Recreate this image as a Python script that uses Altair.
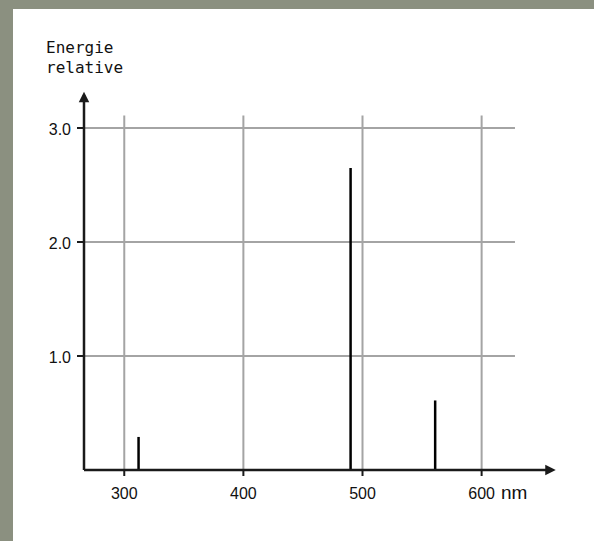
import altair as alt
import pandas as pd

# Data
wavelengths = [312, 490, 561]          # nm
energies = [0.29, 2.65, 0.61]          # relative energy
x_ticks = [300, 400, 500, 600]
x_labels = ["300", "400", "500", "600"]
y_ticks = [1.0, 2.0, 3.0]
y_labels = ["1.0", "2.0", "3.0"]

x_domain = [266.2, 661.6]
y_domain = [0, 3.307]
grid_top = 3.11
grid_right = 628

W, H = 471, 377
PL, PT = 84, 93

xs = alt.Scale(domain=x_domain, nice=False, zero=False)
ys = alt.Scale(domain=y_domain, nice=False, zero=False)

lines_df = pd.DataFrame({"nm": wavelengths, "e": energies})
vgrid_df = pd.DataFrame({"nm": x_ticks, "y0": [0] * 4, "y1": [grid_top] * 4, "lab": x_labels})
hgrid_df = pd.DataFrame({"e": y_ticks, "x0": [x_domain[0]] * 3, "x1": [grid_right] * 3, "lab": y_labels})
one = pd.DataFrame({"a": [0]})

GRID = "#a4a4a4"
INK = "#1a1a1a"
BORDER = "#8b9080"

border_left = alt.Chart(one).mark_rect(color=BORDER).encode(
    x=alt.value(-PL), x2=alt.value(-PL + 13), y=alt.value(-PT), y2=alt.value(541 - PT)
)
border_top = alt.Chart(one).mark_rect(color=BORDER).encode(
    x=alt.value(-PL), x2=alt.value(594 - PL), y=alt.value(-PT), y2=alt.value(-PT + 9)
)

vgrid = alt.Chart(vgrid_df).mark_rule(color=GRID, strokeWidth=2).encode(
    x=alt.X("nm:Q", scale=xs, axis=None),
    y=alt.Y("y0:Q", scale=ys, axis=None),
    y2="y1:Q",
)
hgrid = alt.Chart(hgrid_df).mark_rule(color=GRID, strokeWidth=2).encode(
    y=alt.Y("e:Q", scale=ys, axis=None),
    x=alt.X("x0:Q", scale=xs, axis=None),
    x2="x1:Q",
)

spectral = alt.Chart(lines_df).mark_rule(color="#000000", strokeWidth=2.5).encode(
    x=alt.X("nm:Q", scale=xs, axis=None),
    y=alt.Y("e:Q", scale=ys, axis=None),
    y2=alt.Y2(datum=0),
)

# axis lines and ticks
y_axis_line = alt.Chart(one).mark_rule(color=INK, strokeWidth=2.5).encode(
    x=alt.value(0), y=alt.value(2), y2=alt.value(H)
)
x_axis_line = alt.Chart(one).mark_rule(color=INK, strokeWidth=2.5).encode(
    x=alt.value(0), x2=alt.value(W - 3), y=alt.value(H)
)
x_tick_marks = alt.Chart(vgrid_df).mark_rule(color=INK, strokeWidth=2).encode(
    x=alt.X("nm:Q", scale=xs, axis=None), y=alt.value(H), y2=alt.value(H + 6)
)
y_tick_marks = alt.Chart(hgrid_df).mark_rule(color=INK, strokeWidth=2).encode(
    y=alt.Y("e:Q", scale=ys, axis=None), x=alt.value(-7), x2=alt.value(0)
)

arrow_up = alt.Chart(one).mark_point(
    shape="M0,-1L1,1L-1,1Z", filled=True, color=INK, opacity=1, size=110, strokeWidth=0
).encode(x=alt.value(0), y=alt.value(4))
arrow_right = alt.Chart(one).mark_point(
    shape="M1,0L-1,-1L-1,1Z", filled=True, color=INK, opacity=1, size=110, strokeWidth=0
).encode(x=alt.value(W - 4.5), y=alt.value(H))

ylab = alt.Chart(hgrid_df).mark_text(
    font="Liberation Sans", fontSize=16, align="right", baseline="middle", dy=2, color="#111"
).encode(y=alt.Y("e:Q", scale=ys, axis=None), x=alt.value(71 - PL), text="lab:N")

xlab = alt.Chart(vgrid_df).mark_text(
    font="Liberation Sans", fontSize=16, align="center", baseline="alphabetic", color="#111"
).encode(x=alt.X("nm:Q", scale=xs, axis=None), y=alt.value(499 - PT), text="lab:N")

unit = alt.Chart(one).mark_text(
    font="Liberation Sans", fontSize=19, align="left", baseline="alphabetic", color="#111", text="nm"
).encode(x=alt.value(501 - PL), y=alt.value(499 - PT))

title1 = alt.Chart(one).mark_text(
    font="DejaVu Sans Mono", fontSize=16, align="left", baseline="alphabetic", color="#111",
    text="Energie"
).encode(x=alt.value(46 - PL), y=alt.value(53 - PT))
title2 = alt.Chart(one).mark_text(
    font="DejaVu Sans Mono", fontSize=16, align="left", baseline="alphabetic", color="#111",
    text="relative"
).encode(x=alt.value(46 - PL), y=alt.value(73 - PT))

chart = alt.layer(
    border_left, border_top, vgrid, hgrid, spectral,
    y_axis_line, x_axis_line, x_tick_marks, y_tick_marks, arrow_up, arrow_right,
    ylab, xlab, unit, title1, title2
).properties(
    width=W, height=H,
    padding={"left": PL, "top": PT, "right": 594 - PL - W, "bottom": 541 - PT - H},
    autosize=alt.AutoSizeParams(type="none"),
    background="white",
).configure_view(strokeWidth=0)

chart.save("out.html", embed_options={"renderer": "svg", "actions": False})
